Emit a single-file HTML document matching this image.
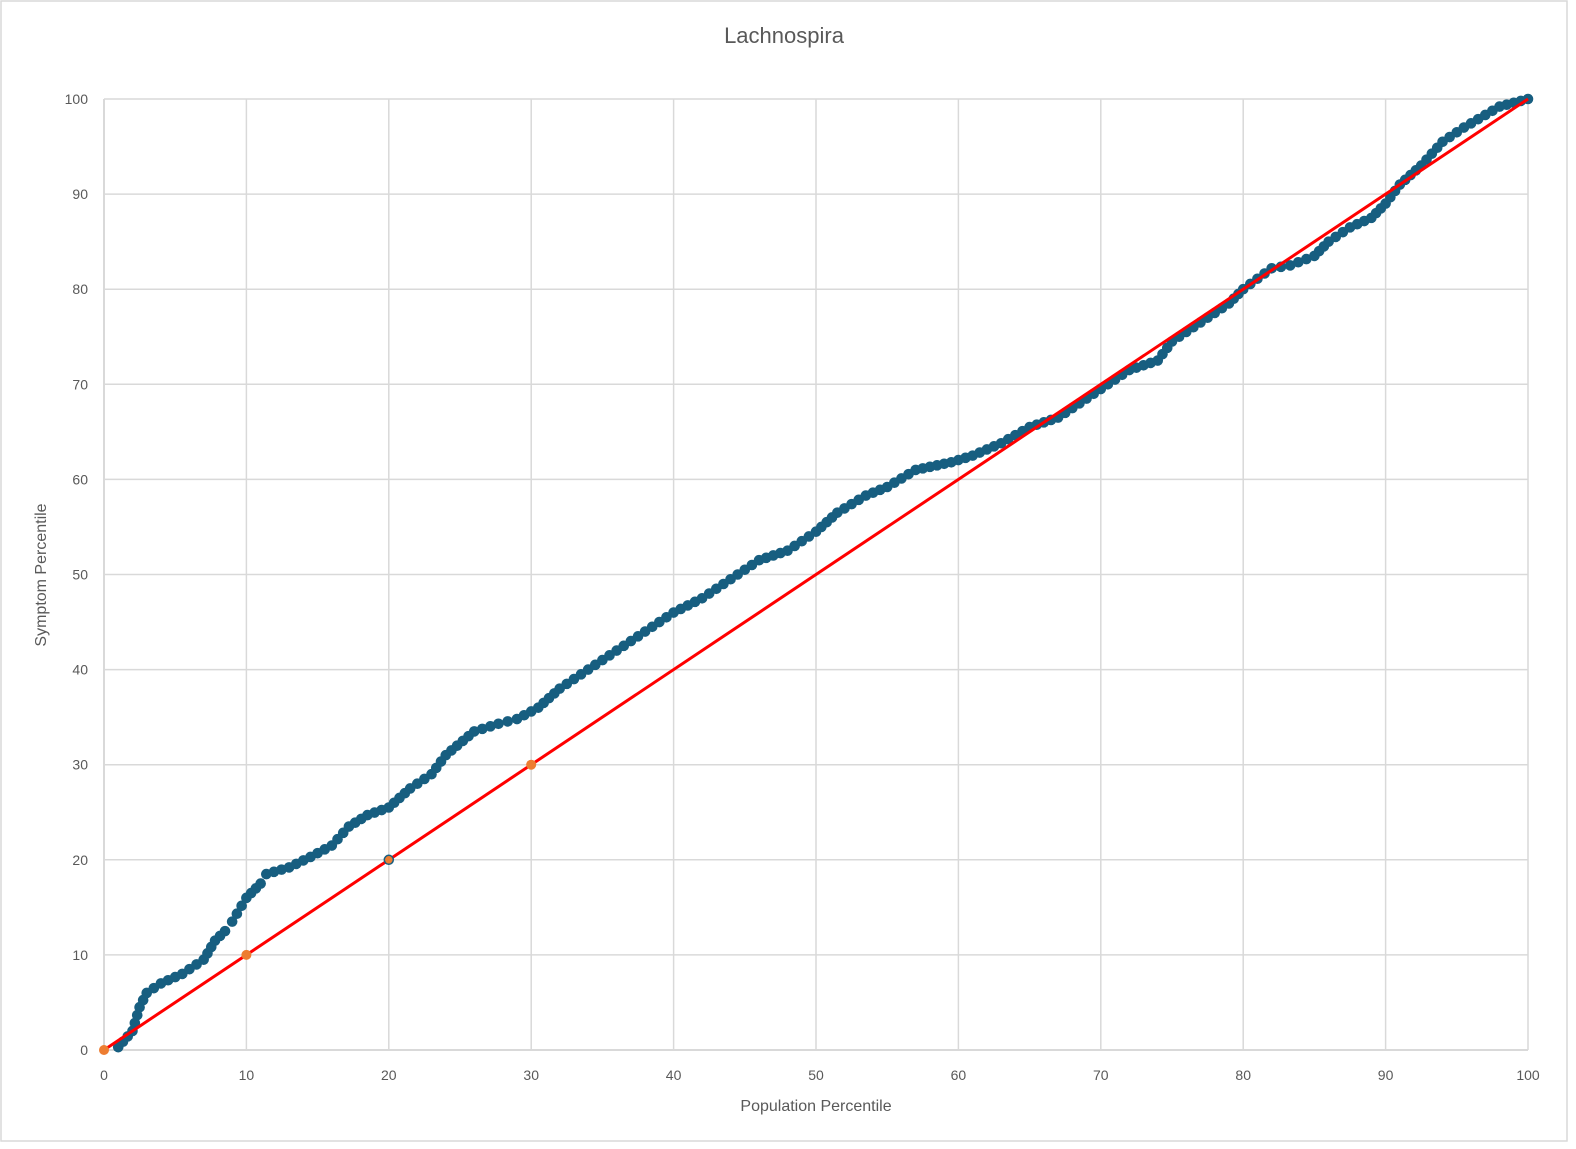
<!DOCTYPE html>
<html><head><meta charset="utf-8"><style>
html,body{margin:0;padding:0;background:#fff;}
svg{display:block;font-family:"Liberation Sans",sans-serif;}
</style></head><body>
<svg id="s" width="1576" height="1149" xmlns="http://www.w3.org/2000/svg">
<rect x="1" y="1" width="1566" height="1140" fill="#fff" stroke="#d9d9d9" stroke-width="1.5"/>
<text x="784" y="43" text-anchor="middle" font-size="22" fill="#595959">Lachnospira</text>
<g id="grid"></g>
<text x="816" y="1111" text-anchor="middle" font-size="16" fill="#595959">Population Percentile</text>
<text transform="translate(46,575) rotate(-90)" text-anchor="middle" font-size="16" fill="#595959">Symptom Percentile</text>
<g id="dots"></g>
<line x1="104" y1="1050" x2="1528" y2="99" stroke="#ff0000" stroke-width="3"/>
<g id="orange"></g>
</svg>
<script>
var NS="http://www.w3.org/2000/svg";
function X(v){return 104+v*14.24;}
function Y(v){return 1050-v*9.51;}
function el(t,a,p,txt){var e=document.createElementNS(NS,t);for(var k in a)e.setAttribute(k,a[k]);if(txt!==undefined)e.textContent=txt;p.appendChild(e);return e;}
var g=document.getElementById('grid');
for(var i=0;i<=10;i++){
 var v=i*10;
 el('line',{x1:X(v),y1:99,x2:X(v),y2:1050,stroke:'#d9d9d9','stroke-width':(i==0?2:1.5)},g);
 el('line',{x1:104,y1:Y(v),x2:1528,y2:Y(v),stroke:'#d9d9d9','stroke-width':(i==0?2:1.5)},g);
 el('text',{x:X(v),y:1080,'text-anchor':'middle','font-size':14,fill:'#595959'},g,String(v));
 el('text',{x:88,y:Y(v)+5,'text-anchor':'end','font-size':14,fill:'#595959'},g,String(v));
}
var P=[[1,0.3],[2,2],[2.5,4.5],[3,6],[4,7],[5.5,8],[7,9.5],[7.8,11.5],[8.5,12.5],[9,13.5],[10,16],[11,17.5],[11.4,18.5],[13,19.2],[14.5,20.3],[16,21.5],[17.2,23.5],[18.5,24.7],[20,25.5],[21.5,27.5],[23,29],[24,31],[26,33.5],[27.7,34.3],[29,34.8],[30.5,36],[32,38],[34,40],[35,41],[37,43],[38.5,44.5],[40,46],[42,47.5],[44,49.5],[46,51.5],[48,52.5],[50,54.5],[51.5,56.5],[53.5,58.3],[55,59.2],[57,61],[59.5,61.8],[61,62.5],[63,63.8],[65,65.5],[67,66.5],[68.5,68],[70,69.5],[72,71.5],[74,72.5],[75,74.5],[77,76.5],[79,78.5],[80,80],[82,82.2],[83.3,82.5],[85,83.5],[86,85],[87.5,86.5],[89,87.5],[90,89],[91,91],[92.5,93],[94,95.5],[95.5,97],[98,99.2],[100,100]];
var d=document.getElementById('dots');
for(var j=0;j<P.length-1;j++){
 var a=P[j],b=P[j+1];
 var dx=X(b[0])-X(a[0]),dy=Y(b[1])-Y(a[1]);
 var L=Math.sqrt(dx*dx+dy*dy);var n=Math.max(1,Math.round(L/8));
 for(var k=0;k<n;k++){var t=k/n;
  el('circle',{cx:X(a[0])+dx*t,cy:Y(a[1])+dy*t,r:5.3,fill:'#175e80'},d);}
}
el('circle',{cx:X(100),cy:Y(100),r:5.3,fill:'#175e80'},d);
var o=document.getElementById('orange');
[[0,0],[10,10],[30,30]].forEach(function(p){el('circle',{cx:X(p[0]),cy:Y(p[1]),r:5,fill:'#ed7d31'},o);});
el('circle',{cx:X(20),cy:Y(20),r:4.5,fill:'#ed7d31',stroke:'#175e80','stroke-width':1.5},o);
</script>
</body></html>
